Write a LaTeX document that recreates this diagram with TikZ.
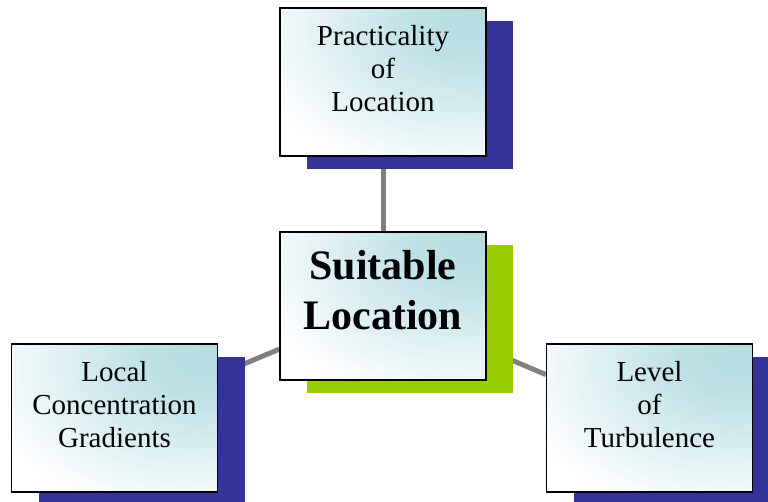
\documentclass[tikz,border=0pt]{standalone}
\usepackage{fontspec}
\setmainfont{Liberation Serif}
\usetikzlibrary{shadows,backgrounds}

\definecolor{glowteal}{RGB}{180,220,225}
\definecolor{shadowblue}{RGB}{51,51,153}
\definecolor{shadowgreen}{RGB}{153,204,0}
\definecolor{linkgray}{RGB}{128,128,128}
\pgfdeclareradialshading{cornerglow}{\pgfpoint{25bp}{25bp}}{color(0bp)=(glowteal); color(14bp)=(glowteal!88!white); color(48bp)=(white); color(120bp)=(white)}

\begin{document}
\begin{tikzpicture}[x=1pt,y=1pt,
  topic/.style={draw=black, line width=1.5pt, shade, shading=cornerglow,
    minimum width=206pt, minimum height=148pt, inner sep=0pt,
    align=center, font=\fontsize{29}{33}\selectfont},
  bluedrop/.style={general shadow={fill=shadowblue, shadow xshift=27pt, shadow yshift=-13pt}},
  greendrop/.style={general shadow={fill=shadowgreen, shadow xshift=27pt, shadow yshift=-13pt}},
  link/.style={draw=linkgray, line width=5pt}]

\useasboundingbox (0,0) rectangle (768,501);

\node[topic,bluedrop] (practical) at (383,419) {Practicality\\of\\Location\\[-5pt]\mbox{}};
\node[topic,greendrop,font=\bfseries\fontsize{42}{50}\selectfont] (suitable) at (383,195) {Suitable\\Location\\[-18pt]\mbox{}};
\node[topic,bluedrop] (gradients) at (114.5,83) {Local\\Concentration\\Gradients\\[-5pt]\mbox{}};
\node[topic,bluedrop] (turbulence) at (649.5,83) {Level\\of\\Turbulence\\[-5pt]\mbox{}};

% connectors behind the boxes
\begin{scope}[on background layer]
\draw[link] (suitable) -- (practical);
\draw[link] (suitable) -- (gradients);
\draw[link] (suitable) -- (turbulence);
\end{scope}

\end{tikzpicture}
\end{document}
